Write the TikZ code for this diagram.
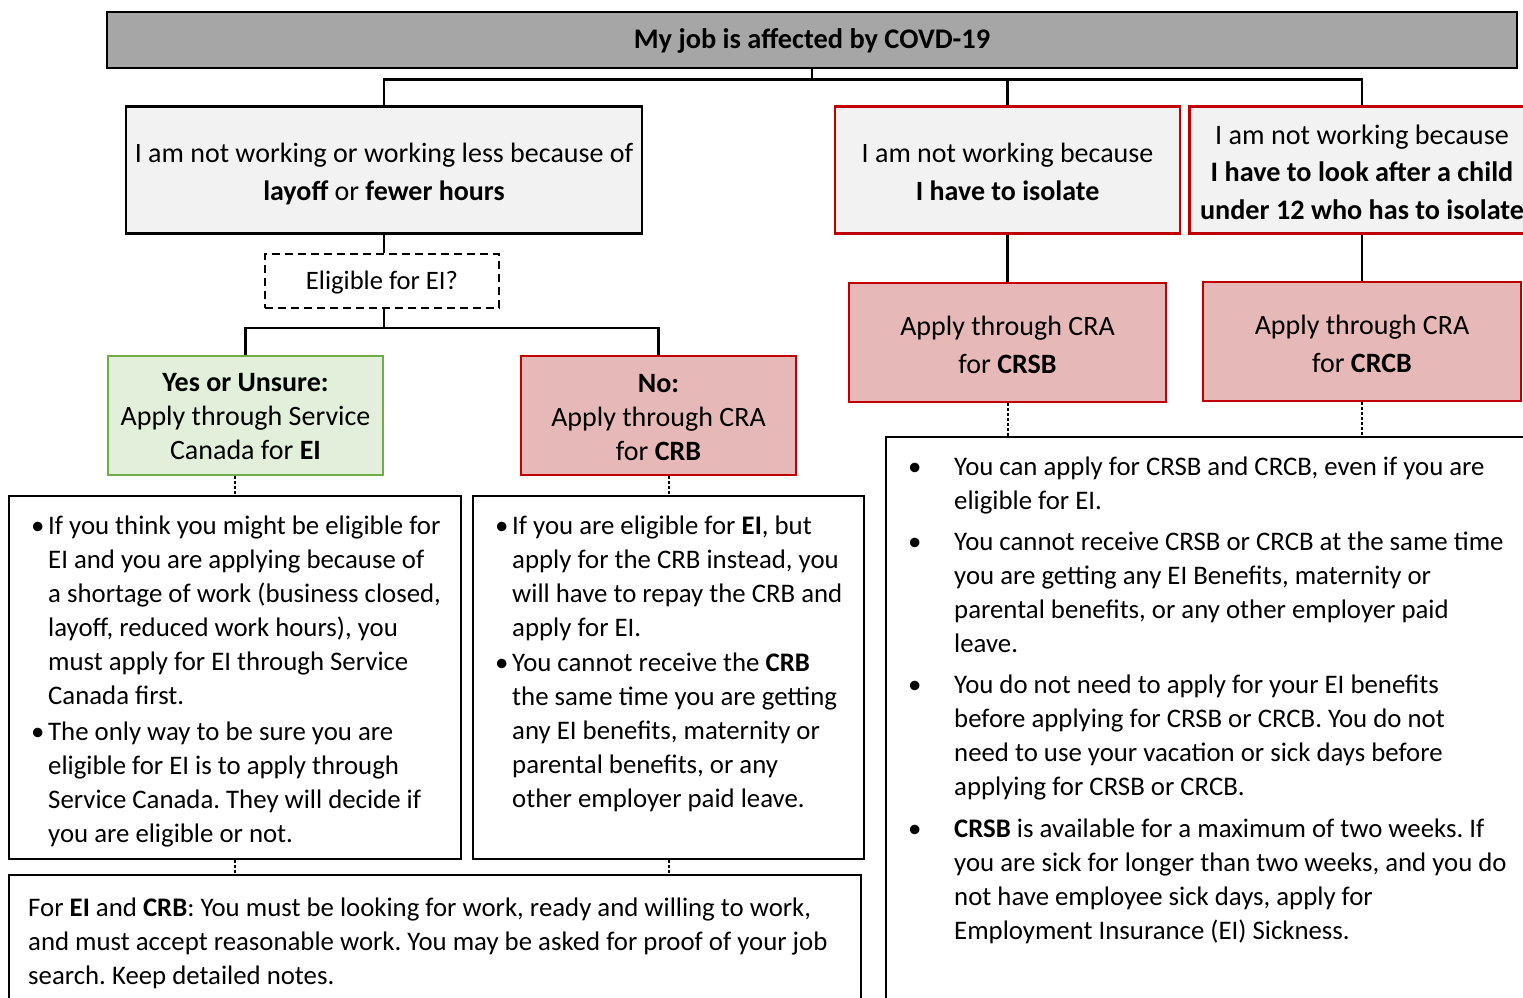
\documentclass[tikz,border=0pt]{standalone}
\usepackage{fontspec}
\setmainfont{Carlito}
\frenchspacing
\definecolor{titlegray}{HTML}{A6A6A6}
\definecolor{boxgray}{HTML}{F2F2F2}
\definecolor{okline}{HTML}{70AD47}
\definecolor{okfill}{HTML}{E2EFDA}
\definecolor{craline}{HTML}{C00000}
\definecolor{crafill}{HTML}{E6B8B7}
% bullet with a fixed hanging width
\newcommand\bulA{\makebox[17pt][l]{\textbullet}}
\newcommand\indA{\hspace*{17pt}}
\newcommand\bulB{\makebox[46pt][l]{\textbullet}}
\newcommand\indB{\hspace*{46pt}}
\tikzset{
  box/.style={rectangle, inner sep=0pt, line width=2.6pt},
  titlebox/.style={box, draw=black, fill=titlegray},
  graybox/.style={box, draw=black, fill=boxgray},
  redgray/.style={box, draw=craline, fill=boxgray},
  okbox/.style={box, draw=okline, fill=okfill},
  crabox/.style={box, draw=craline, fill=crafill},
  question/.style={box, draw=black, fill=white, line width=1.8pt, dash pattern=on 8pt off 5pt},
  boxtext/.style={inner sep=0pt, align=center},
  titletext/.style={boxtext, font=\fontsize{28.4}{32}\selectfont\bfseries},
  bigtext/.style={boxtext, font=\fontsize{28}{38}\selectfont},
  midtext/.style={boxtext, font=\fontsize{28}{34}\selectfont},
  qtext/.style={boxtext, font=\fontsize{26.6}{30}\selectfont},
  infobox/.style={rectangle, inner sep=0pt, draw=black, line width=2pt, fill=white},
  infotext/.style={inner sep=0pt, anchor=base west, align=left, font=\fontsize{26.8}{34}\selectfont},
  conn/.style={line width=2.4pt, draw=black},
  dotconn/.style={line width=2pt, draw=black, dash pattern=on 2.5pt off 2.5pt},
}
\begin{document}
\begin{tikzpicture}[x=1pt, y=-1pt]
\useasboundingbox (0,0) rectangle (1523,998);
\clip (0,0) rectangle (1523,998);

% top heading
\node[titlebox, minimum width=1410pt, minimum height=56pt] (title) at (812,40) {};
\node[titletext] (title-t) at ([yshift=-1pt]title.center) {My job is affected by COVD-19};

% three situations
\node[graybox, minimum width=516pt, minimum height=127pt] (layoff) at (384,170) {};
\node[bigtext] (layoff-t) at ([yshift=-4pt]layoff.center)
  {I am not working or working less because of\\ \textbf{layoff} or \textbf{fewer hours}};
\node[redgray, minimum width=345pt, minimum height=127pt] (isolate) at (1007.5,170) {};
\node[bigtext] (isolate-t) at ([yshift=-2pt]isolate.center)
  {I am not working because\\ \textbf{I have to isolate}};
\node[redgray, minimum width=345pt, minimum height=127pt] (child) at (1362,170) {};
\node[boxtext, font=\fontsize{28.2}{37.5}\selectfont] (child-t) at ([yshift=-2pt]child.center)
  {I am not working because\\ \textbf{I have to look after a child}\\ \textbf{under 12 who has to isolate}};

% eligibility question
\node[question, minimum width=234pt, minimum height=54pt] (elig) at (382,281) {};
\node[qtext] (elig-t) at ([yshift=-2pt]elig.center) {Eligible for EI?};

% application routes
\node[okbox, minimum width=275pt, minimum height=119pt] (yes) at (245.5,415.5) {};
\node[midtext] (yes-t) at ([yshift=-1pt]yes.center)
  {\textbf{Yes or Unsure:}\\ Apply through Service\\ Canada for \textbf{EI}};
\node[crabox, minimum width=275pt, minimum height=119pt] (no) at (658.5,415.5) {};
\node[midtext] (no-t) at ([yshift=-2pt]no.center)
  {\textbf{No:}\\ Apply through CRA\\ for \textbf{CRB}};
\node[crabox, minimum width=317pt, minimum height=119pt] (crsb) at (1007.5,342.5) {};
\node[bigtext] (crsb-t) at ([yshift=-2pt]crsb.center)
  {Apply through CRA\\ for \textbf{CRSB}};
\node[crabox, minimum width=318pt, minimum height=119pt] (crcb) at (1362,341.5) {};
\node[bigtext] (crcb-t) at ([yshift=-2pt]crcb.center)
  {Apply through CRA\\ for \textbf{CRCB}};

% information boxes
\node[infobox, minimum width=452pt, minimum height=363pt] (einfo) at (235,677.5) {};
\node[infobox, minimum width=391pt, minimum height=363pt] (crbinfo) at (668.5,677.5) {};
\node[infobox, minimum width=852pt, minimum height=160pt] (search) at (435,955) {};
\node[infobox, minimum width=660pt, minimum height=600pt] (sickinfo) at (1216,737) {};

\node[infotext] (einfotext) at (31,534) {%
\begin{tabular}[t]{@{}l@{}}
\bulA If you think you might be eligible for\\
\indA EI and you are applying because of\\
\indA a shortage of work (business closed,\\
\indA layoff, reduced work hours), you\\
\indA must apply for EI through Service\\
\indA Canada first.\\[2pt]
\bulA The only way to be sure you are\\
\indA eligible for EI is to apply through\\
\indA Service Canada. They will decide if\\
\indA you are eligible or not.
\end{tabular}};

\node[infotext] (crbinfotext) at (495,534) {%
\begin{tabular}[t]{@{}l@{}}
\bulA If you are eligible for \textbf{EI}, but\\
\indA apply for the CRB instead, you\\
\indA will have to repay the CRB and\\
\indA apply for EI.\\[1pt]
\bulA You cannot receive the \textbf{CRB}\\
\indA the same time you are getting\\
\indA any EI benefits, maternity or\\
\indA parental benefits, or any\\
\indA other employer paid leave.
\end{tabular}};

\node[infotext] (searchtext) at (28,916) {%
\begin{tabular}[t]{@{}l@{}}
For \textbf{EI} and \textbf{CRB}: You must be looking for work, ready and willing to work,\\
and must accept reasonable work. You may be asked for proof of your job\\
search. Keep detailed notes.
\end{tabular}};

\node[infotext] (sickinfotext) at (908,475) {%
\begin{tabular}[t]{@{}l@{}}
\bulB You can apply for CRSB and CRCB, even if you are\\
\indB eligible for EI.\\[7pt]
\bulB You cannot receive CRSB or CRCB at the same time\\
\indB you are getting any EI Benefits, maternity or\\
\indB parental benefits, or any other employer paid\\
\indB leave.\\[7pt]
\bulB You do not need to apply for your EI benefits\\
\indB before applying for CRSB or CRCB. You do not\\
\indB need to use your vacation or sick days before\\
\indB applying for CRSB or CRCB.\\[8pt]
\bulB \textbf{CRSB} is available for a maximum of two weeks. If\\
\indB you are sick for longer than two weeks, and you do\\
\indB not have employee sick days, apply for\\
\indB Employment Insurance (EI) Sickness.
\end{tabular}};

% solid connectors
\draw[conn] (title.south) -- ++(0,10) coordinate (bus);
\draw[conn] (bus) -| (layoff.north);
\draw[conn] (bus) -| (isolate.north);
\draw[conn] (bus) -| (child.north);
\draw[conn] (layoff.south) -- (layoff.south |- elig.north);
\draw[conn] (elig.south -| layoff.south) -- ++(0,19) coordinate (fork);
\draw[conn] (fork) -| (yes.north);
\draw[conn] (fork) -| (no.north);
\draw[conn] (isolate.south) -- (crsb.north);
\draw[conn] (child.south) -- (crcb.north);

% dotted connectors
\draw[dotconn] (yes.south -| einfo.north) -- (einfo.north);
\draw[dotconn] (no.south -| crbinfo.north) -- (crbinfo.north);
\draw[dotconn] (einfo.south) -- (einfo.south |- search.north);
\draw[dotconn] (crbinfo.south) -- (crbinfo.south |- search.north);
\draw[dotconn] (crsb.south) -- (crsb.south |- sickinfo.north);
\draw[dotconn] (crcb.south) -- (crcb.south |- sickinfo.north);
\end{tikzpicture}
\end{document}
